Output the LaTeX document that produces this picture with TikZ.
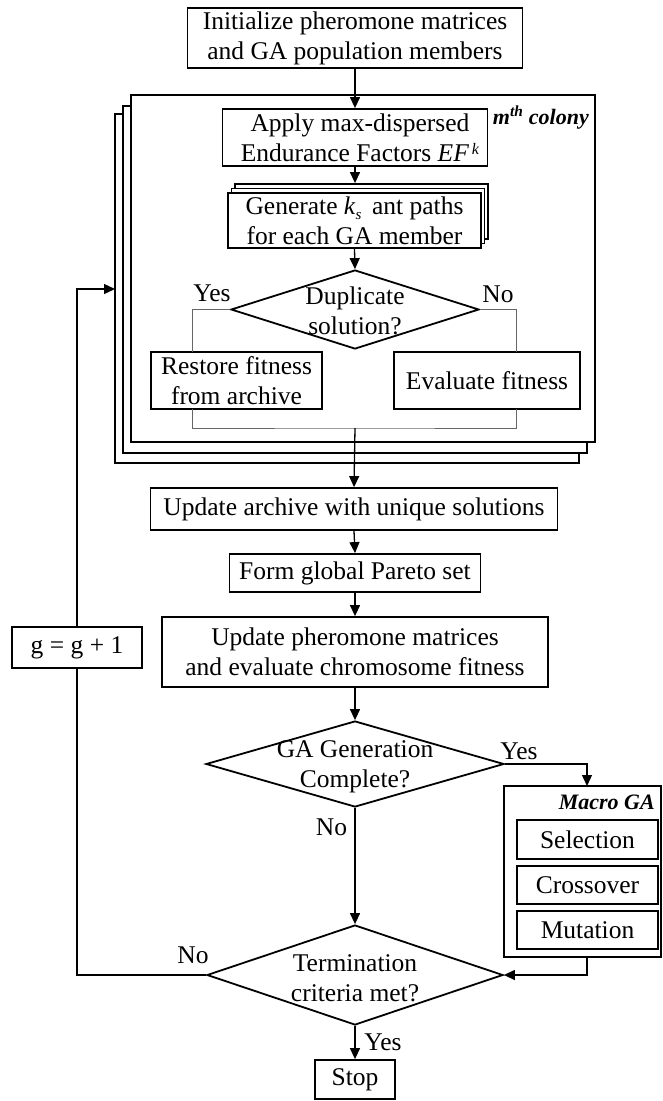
\documentclass[tikz,border=0pt]{standalone}
\usepackage{fontspec}
\setmainfont{Liberation Serif}
\usetikzlibrary{arrows.meta,shapes.geometric}
\begin{document}
\begin{tikzpicture}[x=1pt,y=-1pt,
  every node/.style={font=\fontsize{25.5}{30}\selectfont},
  box/.style={draw, line width=1.8pt, fill=white, inner sep=0pt, align=center},
  dec/.style={draw, diamond, line width=1.8pt, inner sep=0pt},
  dectext/.style={align=center, inner sep=0pt},
  lbl/.style={inner sep=0pt},
  tag/.style={inner sep=0pt, font=\bfseries\itshape\fontsize{22}{26}\selectfont},
  arr/.style={line width=1.3pt, -{Triangle[length=11pt,width=10pt]}},
  conn/.style={line width=1.3pt},
  branch/.style={line width=1pt, black!60},
]
\useasboundingbox (0,0) rectangle (662,1101);

% initialisation
\node[box, minimum width=335pt, minimum height=60pt] (init) at (355,38)
  {Initialize pheromone matrices\\and GA population members};

% stacked colony frames
\node[box, minimum width=464pt, minimum height=349pt] (colC) at (347,288.5) {};
\node[box, minimum width=464pt, minimum height=347pt] (colB) at (355,279.5) {};
\node[box, minimum width=464pt, minimum height=347pt] (colA) at (363,268.5) {};
\node[tag, anchor=base east] (colname) at (589,124) {m\textsuperscript{th} colony};

\node[box, minimum width=265pt, minimum height=57pt] (apply) at (355,137.5)
  {\hspace*{10pt}Apply max-dispersed\\\hspace*{10pt}Endurance Factors \textit{EF}\raisebox{0.55ex}{\fontsize{16}{16}\selectfont\,\textit{k}}};

% stacked ant-path boxes
\node[box, minimum width=253pt, minimum height=55pt] (gen3) at (361.5,211.5) {};
\node[box, minimum width=253pt, minimum height=55pt] (gen2) at (358,216) {};
\node[box, minimum width=253pt, minimum height=55pt] (gen) at (354.5,220.5)
  {Generate \textit{k}\raisebox{-0.45ex}{\fontsize{15}{15}\selectfont\textit{s}}\, ant paths\\for each GA member};

\node[dec, minimum width=248pt, minimum height=79pt] (dup) at (355,309.5) {};
\node[dectext] (duptext) at (355,311) {Duplicate\\solution?};
\node[lbl] (dupyes) at (212,293) {Yes};
\node[lbl] (dupno) at (498,294) {No};

\node[box, minimum width=171pt, minimum height=57pt] (restore) at (236.5,380.5)
  {Restore fitness\\from archive};
\node[box, minimum width=186pt, minimum height=57pt] (eval) at (487,380.5)
  {Evaluate fitness};

\coordinate (rtop) at (192.7,352);
\coordinate (rbot) at (192.7,409);
\coordinate (etop) at (516.7,352);
\coordinate (ebot) at (516.7,409);
\coordinate (merge) at (355,428);

% after the colonies
\node[box, minimum width=407pt, minimum height=42pt] (archive) at (354,509)
  {Update archive with unique solutions};
\node[box, minimum width=251pt, minimum height=38pt] (pareto) at (355,573)
  {Form global Pareto set};
\node[box, minimum width=386pt, minimum height=70pt] (pher) at (355,652)
  {Update pheromone matrices\\and evaluate chromosome fitness};
\node[box, minimum width=130pt, minimum height=41pt] (gbox) at (77,647.5)
  {g = g + 1};

\node[dec, minimum width=298pt, minimum height=86pt] (ga) at (355,764) {};
\node[dectext] (gatext) at (355,767) {GA Generation\\Complete?};
\node[lbl] (gayes) at (519,751) {Yes};
\node[lbl] (gano) at (331.5,827) {No};

% macro GA block
\node[box, minimum width=157pt, minimum height=171pt] (macro) at (582.5,871.5) {};
\node[tag, anchor=base east] (macroname) at (655,809) {Macro GA};
\node[box, minimum width=141pt, minimum height=39pt] (sel) at (587.5,839.5) {Selection};
\node[box, minimum width=141pt, minimum height=38pt] (cross) at (587.5,885) {Crossover};
\node[box, minimum width=141pt, minimum height=38pt] (mut) at (587.5,930) {Mutation};
\coordinate (mtop) at (587,786);
\coordinate (mbot) at (587,957);

\node[dec, minimum width=296pt, minimum height=100pt] (term) at (355,975) {};
\node[dectext] (termtext) at (355,978) {Termination\\criteria met?};
\node[lbl] (termno) at (193,955) {No};
\node[lbl] (termyes) at (383,1042) {Yes};

\node[box, minimum width=80pt, minimum height=39pt] (stop) at (355,1079.5) {Stop};

\coordinate (loopbot) at (77,975);
\coordinate (cin) at (115,289);

% connectors
\draw[arr] (init.south) -- (apply.north);
\draw[arr] (apply.south) -- (gen3.north -| apply.south);
\draw[arr] (gen.south) -- (dup.north);
\draw[branch] (dup.west) -| (rtop);
\draw[branch] (dup.east) -| (etop);
\draw[branch] (rbot) |- (merge) -| (ebot);
\draw[arr] (merge) -- (archive.north);
\draw[arr] (archive.south) -- (pareto.north);
\draw[arr] (pareto.south) -- (pher.north);
\draw[arr] (pher.south) -- (ga.north);
\draw[arr] (ga.east) -| (mtop);
\draw[arr] (ga.south) -- (term.north);
\draw[arr] (mbot) |- (term.east);
\draw[arr] (term.south) -- (stop.north);
\draw[conn] (term.west) -- (loopbot) -- (gbox.south);
\draw[arr] (gbox.north) |- (cin);
\end{tikzpicture}
\end{document}
